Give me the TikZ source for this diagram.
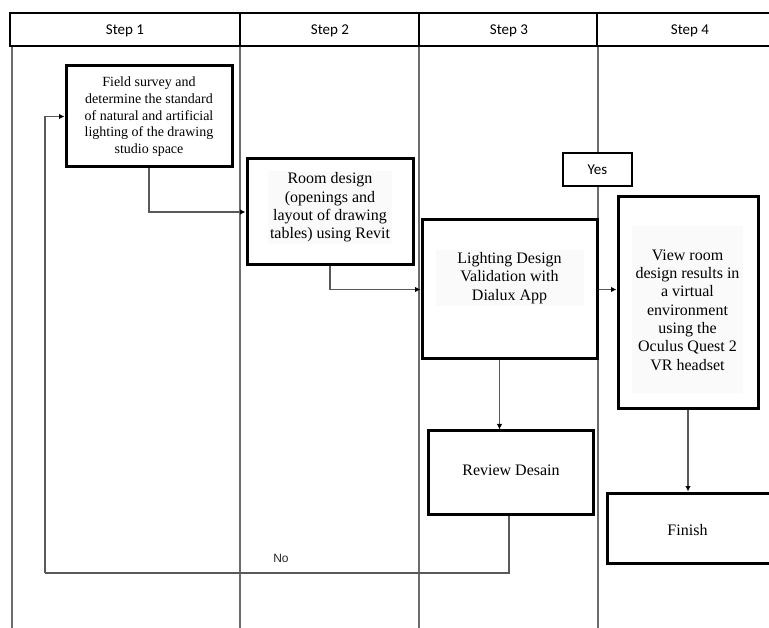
\documentclass[tikz,border=0pt]{standalone}
\usepackage{fontspec}
\setmainfont{Liberation Serif}
\newfontfamily\calfont{Carlito}
\newfontfamily\arialfont{Liberation Sans}
\usetikzlibrary{arrows.meta}
\begin{document}
\begin{tikzpicture}[x=1pt,y=-1pt,
  lane/.style={draw=gray!85!black, line width=1.6pt},
  hdr/.style={draw=black, line width=2pt},
  htext/.style={font=\calfont\fontsize{15}{17}\selectfont, inner sep=0pt},
  procbox/.style={draw=black, line width=3pt, fill=white, inner sep=0pt},
  btext/.style={align=center, inner sep=2pt, font=\fontsize{16}{18.3}\selectfont},
  conn/.style={draw=gray!70!black, line width=1.4pt, -{Latex[length=5.5pt,width=5.5pt,color=black]}},
  plainline/.style={draw=gray!70!black, line width=1.4pt}]
\useasboundingbox (0,0) rectangle (769,628);
% lanes
\draw[lane] (12,46) -- (12,640);
\draw[lane] (240,46) -- (240,640);
\draw[lane] (419,46) -- (419,640);
\draw[lane] (598,46) -- (598,640);
% header
\draw[hdr] (10,13) rectangle (790,46);
\draw[hdr] (240,13) -- (240,46);
\draw[hdr] (419,13) -- (419,46);
\draw[hdr] (597,13) -- (597,46);
\node[htext] (h1) at (125,31) {Step 1};
\node[htext] (h2) at (330,31) {Step 2};
\node[htext] (h3) at (509,31) {Step 3};
\node[htext] (h4) at (690,31) {Step 4};
% boxes
\node[procbox, minimum width=166pt, minimum height=101pt] (box1) at (149,116.5) {};
\node[btext, font=\fontsize{14}{16.7}\selectfont] (t1) at (149,116.7) {Field survey and\\determine the standard\\of natural and artificial\\lighting of the drawing\\studio space};
\node[procbox, minimum width=166pt, minimum height=106pt] (box2) at (330,212) {};
\node[btext, fill=gray!4] (t2) at (330,207.5) {Room design\\(openings and\\layout of drawing\\tables) using Revit};
\node[procbox, minimum width=175pt, minimum height=139pt] (box3) at (509.5,289.5) {};
\node[btext, fill=gray!4, minimum width=148pt] (t3) at (509.5,278) {Lighting Design\\Validation with\\Dialux App};
\node[procbox, minimum width=140pt, minimum height=212pt] (box4) at (688,303) {};
\node[btext, fill=gray!4, minimum width=111pt, minimum height=167pt] (t4) at (687.5,310) {View room\\design results in\\a virtual\\environment\\using the\\Oculus Quest 2\\VR headset};
\node[procbox, minimum width=165pt, minimum height=83pt] (review) at (510.5,472.5) {};
\node[btext] (t5) at (511,470) {Review Desain};
\node[procbox, minimum width=200pt, minimum height=70pt, anchor=west] (finish) at (606,528) {};
\node[btext] (t6) at (687.5,530) {Finish};
\node[draw=black, line width=1.2pt, fill=white, minimum width=69pt, minimum height=33pt, inner sep=0pt, font=\calfont\fontsize{15}{17}\selectfont] (yes) at (597.5,169.5) {Yes};
% connectors
\draw[conn] (box1.south) |- (box2.west);
\draw[conn] (box2.south) |- (box3.west);
\draw[conn] (box3.east) -- (box3.east -| box4.west);
\draw[conn] ([xshift=-10pt]box3.south) -- ([xshift=-10pt]box3.south |- review.north);
\draw[conn] (box4.south) -- (box4.south |- finish.north);
\coordinate (fbr) at (509,573);
\coordinate (fbl) at (45,573);
\draw[plainline] (review.south -| fbr) -- (fbr) -- (fbl);
\draw[conn] (fbl) |- (box1.west);
\node[font=\arialfont\fontsize{12}{14}\selectfont, text=gray!30!black, inner sep=0pt] (no) at (281,558) {No};
\end{tikzpicture}
\end{document}
